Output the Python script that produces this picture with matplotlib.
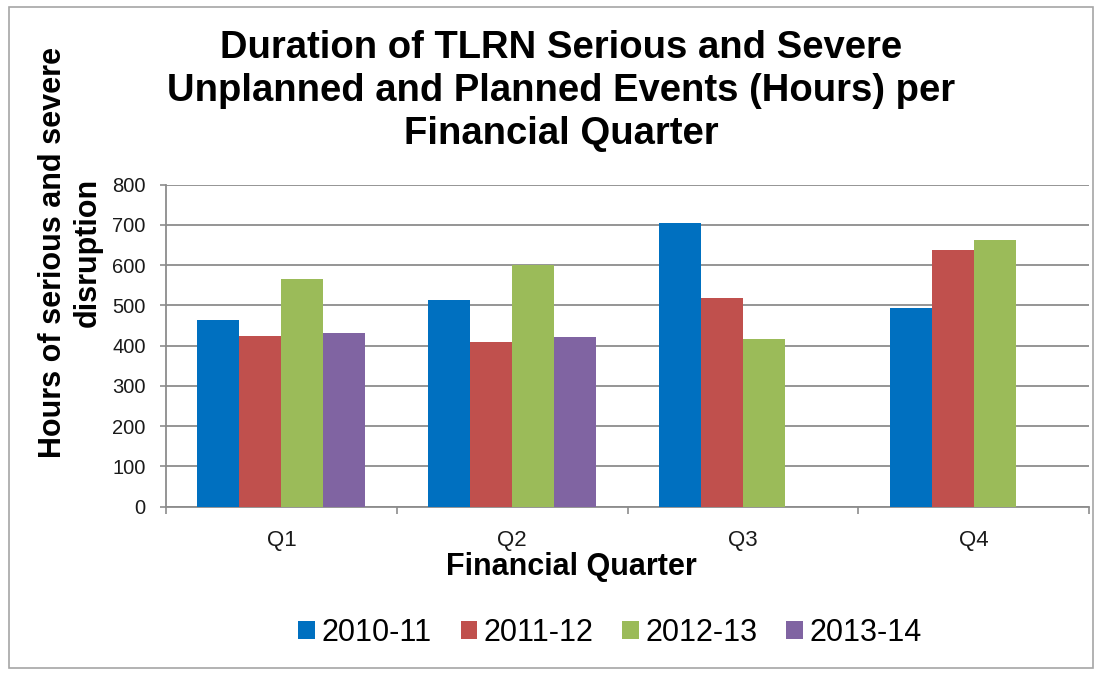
import numpy as np
import matplotlib
matplotlib.use("Agg")
import matplotlib.pyplot as plt
from matplotlib.patches import Rectangle

plt.rcParams["font.family"] = ["Liberation Sans", "DejaVu Sans"]

quarters = ["Q1", "Q2", "Q3", "Q4"]
years = ["2010-11", "2011-12", "2012-13", "2013-14"]
hours_2010_11 = [465, 514, 704, 494]
hours_2011_12 = [425, 408, 518, 639]
hours_2012_13 = [566, 600, 417, 663]
hours_2013_14 = [432, 421, np.nan, np.nan]
yticks = [0, 100, 200, 300, 400, 500, 600, 700, 800]

series = [hours_2010_11, hours_2011_12, hours_2012_13, hours_2013_14]
colors = ["#0070C0", "#C0504D", "#9BBB59", "#8064A2"]
grid_gray = "#8c8c8c"

fig = plt.figure(figsize=(11.01, 6.75), dpi=100, facecolor="white")
ax = fig.add_axes([166 / 1101, 1 - 506.7 / 675, (1089 - 166) / 1101, (506.7 - 184.7) / 675])

x = np.arange(len(quarters))
w = 1 / 5.5
for i, (vals, col, lab) in enumerate(zip(series, colors, years)):
    ax.bar(x + (i - 1.5) * w, vals, width=w, color=col, label=lab, zorder=3)

ax.set_xlim(-0.5, 3.5)
ax.set_ylim(0, 800)
ax.set_yticks(yticks)
ax.yaxis.grid(True, color=grid_gray, linewidth=1.3, zorder=0)
ax.set_axisbelow(True)
for s in ("top", "right"):
    ax.spines[s].set_visible(False)
for s in ("left", "bottom"):
    ax.spines[s].set_color(grid_gray)
    ax.spines[s].set_linewidth(1.3)

ax.tick_params(axis="y", direction="out", length=4.5, width=1.2, color=grid_gray,
               labelsize=14.5, pad=10, labelcolor="#1a1a1a")
ax.set_xticks(np.arange(-0.5, 4, 1))
ax.set_xticklabels([])
ax.tick_params(axis="x", which="major", direction="out", length=5, width=1.2, color=grid_gray)
ax.set_xticks(x, minor=True)
ax.set_xticklabels(quarters, minor=True)
ax.tick_params(axis="x", which="minor", length=0, labelsize=16, pad=17, labelcolor="#1a1a1a")

fig.text(561 / 1101, 1 - 91 / 675,
         "Duration of TLRN Serious and Severe\nUnplanned and Planned Events (Hours) per\nFinancial Quarter",
         ha="center", va="center", ma="center", fontsize=27.5, fontweight="bold", linespacing=1.25)

fig.text(70 / 1101, 1 - 252 / 675, "Hours of serious and severe\ndisruption",
         rotation=90, ha="center", va="center", ma="center", fontsize=22, fontweight="bold",
         linespacing=1.2)

fig.text(571 / 1101, 1 - 567 / 675, "Financial Quarter", ha="center", va="center",
         fontsize=22, fontweight="bold")

fig.legend(loc="center", bbox_to_anchor=(610 / 1101, 1 - 633 / 675), ncol=4, frameon=False,
           fontsize=22, handlelength=0.55, handleheight=0.55, handletextpad=0.2,
           columnspacing=0.95, borderaxespad=0)

fig.patches.append(Rectangle((9 / 1101, 1 - 668 / 675), (1093 - 9) / 1101, (668 - 7) / 675,
                             transform=fig.transFigure, fill=False, edgecolor="#a6a6a6",
                             linewidth=1.2))

fig.savefig("out.png", dpi=100, facecolor="white")
